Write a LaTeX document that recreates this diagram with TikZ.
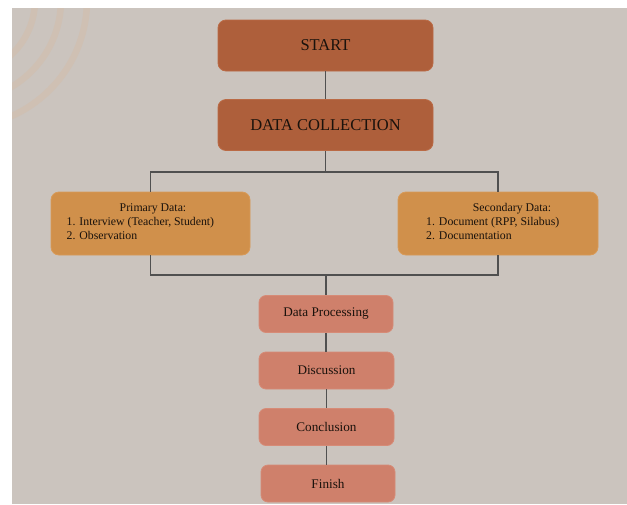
\documentclass[tikz,border=0pt]{standalone}
\usepackage{fontspec}
\setmainfont{Liberation Serif}
\definecolor{bgpanel}{HTML}{CBC4BE}
\definecolor{arcband}{HTML}{CFC0B3}
\definecolor{rust}{HTML}{AE5F3B}
\definecolor{rustedge}{HTML}{BA6A45}
\definecolor{ochre}{HTML}{D0904B}
\definecolor{ochreedge}{HTML}{D89A58}
\definecolor{salmon}{HTML}{CF806B}
\definecolor{salmonedge}{HTML}{D68B77}
\definecolor{wire}{HTML}{505050}
\definecolor{ink}{HTML}{1A120C}
\tikzset{
  box/.style={rounded corners=8pt, line width=0.8pt, inner sep=0pt, text=ink},
  mainbox/.style={box, fill=rust, draw=rustedge, minimum width=215pt, minimum height=51pt,
                  font=\fontsize{16.5}{18}\selectfont},
  databox/.style={box, fill=ochre, draw=ochreedge, minimum height=63pt},
  stepbox/.style={box, rounded corners=7pt, fill=salmon, draw=salmonedge, minimum width=134pt,
                  minimum height=37pt, font=\fontsize{13.2}{15}\selectfont},
  listtext/.style={inner sep=0pt, text=ink, font=\fontsize{11.8}{14}\selectfont},
  wireline/.style={draw=wire, line width=1.2pt},
}
\begin{document}
\begin{tikzpicture}[x=1pt,y=-1pt]
  \useasboundingbox (0,0) rectangle (627,504);
  % backdrop panel with faint concentric arcs in the corner
  \fill[bgpanel] (12,8) rectangle (627,504);
  \begin{scope}
    \clip (12,8) rectangle (627,504);
    \foreach \r in {75,101,127}
      \draw[arcband, line width=6.5pt] (-40,0) circle[radius=\r];
  \end{scope}

  % main stages
  \node[mainbox] (start) at (325.5,45.5) {START};
  \node[mainbox] (collect) at (325.5,125) {DATA COLLECTION};

  % data sources
  \node[databox, minimum width=199pt] (primary) at (150.5,223.5) {};
  \node[databox, minimum width=200pt] (secondary) at (498,223.5) {};
  \node[listtext, anchor=base] at (153,211) {Primary Data:};
  \node[listtext, anchor=base west] at (66.5,225) {1. Interview (Teacher, Student)};
  \node[listtext, anchor=base west] at (66.5,239) {2. Observation};
  \node[listtext, anchor=base] at (512,211) {Secondary Data:};
  \node[listtext, anchor=base west] at (426,225) {1. Document (RPP, Silabus)};
  \node[listtext, anchor=base west] at (426,239) {2. Documentation};

  % processing steps
  \node[stepbox] (process) at (326,314) {Data Processing};
  \node[stepbox, minimum width=135pt] (discuss) at (326.5,370.5) {Discussion};
  \node[stepbox, minimum width=135pt] (conclude) at (326.5,427) {Conclusion};
  \node[stepbox] (finish) at (328,483.5) {Finish};

  % junction points of the split and merge
  \coordinate (split) at (325.5,172);
  \coordinate (merge) at (326,275);

  % connectors
  \draw[wireline] (start.south) -- (collect.north);
  \draw[wireline] (collect.south) -- (split);
  \draw[wireline] (split) -| (primary.north);
  \draw[wireline] (split) -| (secondary.north);
  \draw[wireline] (primary.south) |- (merge);
  \draw[wireline] (secondary.south) |- (merge);
  \draw[wireline] (merge) -- (process.north);
  \draw[wireline] (process.south) -- (process.south |- discuss.north);
  \draw[wireline] (discuss.south) -- (discuss.south |- conclude.north);
  \draw[wireline] (conclude.south) -- (conclude.south |- finish.north);
\end{tikzpicture}
\end{document}
